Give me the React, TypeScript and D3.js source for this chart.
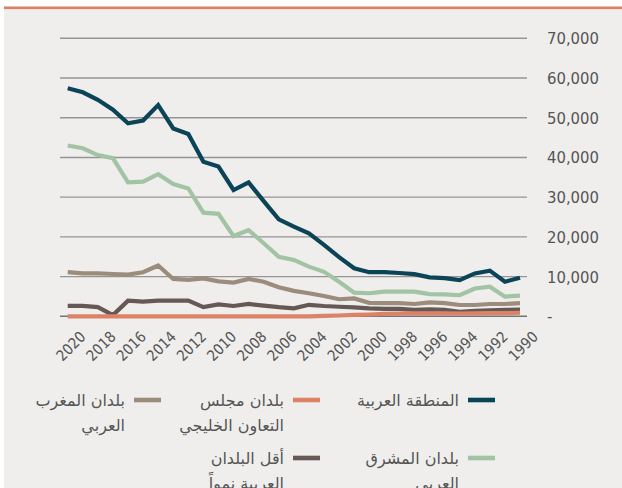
import React from "react";
import * as d3 from "d3";

const years: number[] = d3.range(2020, 1989, -1);

// values, year 2020 → 1990
const arabRegion = [57400, 56400, 54500, 52000, 48600, 49300, 53200, 47300, 45900, 38900, 37700, 31800, 33700, 29000, 24400, 22600, 20900, 18000, 14900, 12100, 11100, 11100, 10900, 10600, 9800, 9600, 9100, 10800, 11500, 8700, 9700];
const gccCountries = [0, 0, 0, 0, 0, 0, 0, 0, 0, 0, 0, 0, 0, 0, 0, 0, 0, 100, 200, 350, 450, 600, 700, 750, 700, 750, 700, 750, 800, 800, 900];
const maghreb = [11100, 10800, 10800, 10650, 10500, 11100, 12800, 9400, 9150, 9550, 8800, 8470, 9400, 8720, 7300, 6400, 5800, 5100, 4300, 4500, 3400, 3300, 3300, 3100, 3500, 3300, 2850, 2850, 3100, 3100, 3300];
const mashreq = [43000, 42300, 40600, 39800, 33750, 33900, 35800, 33300, 32200, 26100, 25800, 20200, 21700, 18400, 15000, 14200, 12500, 11200, 8700, 5950, 5800, 6200, 6200, 6200, 5600, 5500, 5300, 7000, 7450, 4950, 5200];
const ldc = [2600, 2600, 2300, 300, 3950, 3700, 3950, 3950, 3950, 2300, 3000, 2600, 3100, 2700, 2300, 2000, 2900, 2600, 2400, 2250, 2000, 1850, 1850, 1600, 1750, 1600, 1100, 1350, 1500, 1600, 1700];

const yTicks = [0, 10000, 20000, 30000, 40000, 50000, 60000, 70000];
const xTickYears = d3.range(2020, 1989, -2);

const seriesNames = ["المنطقة العربية", "بلدان مجلس التعاون الخليجي", "بلدان المغرب العربي", "بلدان المشرق العربي", "أقل البلدان العربية نمواً"];
const legendLines: string[][] = [
  ["المنطقة العربية"],
  ["بلدان مجلس", "التعاون الخليجي"],
  ["بلدان المغرب", "العربي"],
  ["بلدان المشرق", "العربي"],
  ["أقل البلدان", "العربية نمواً"],
];
const colors = ["#0c4457", "#dc8367", "#9c8c7c", "#a2c3a4", "#665955"];

const numFont = "'DejaVu Sans Condensed', 'DejaVu Sans', sans-serif";
const arFont = "'DejaVu Sans', sans-serif";

export default function App() {
  const W = 622, H = 488;
  const x = d3.scaleLinear().domain([2020, 1990]).range([67.7, 520]);
  const y = d3.scaleLinear().domain([0, 70000]).range([316.3, 38.3]);
  const data = [arabRegion, gccCountries, maghreb, mashreq, ldc];
  const line = d3
    .line<number>()
    .x((_, i) => x(years[i]))
    .y((d) => y(d));
  const drawOrder = [2, 3, 4, 1, 0];
  const fmt = d3.format(",");

  // legend layout: [swatch right edge, row y]
  const legendPos: [number, number][] = [
    [495, 400],
    [320, 400],
    [161, 400],
    [495, 458],
    [320, 458],
  ];

  return (
    <svg
      width={W}
      height={H}
      style={{ position: "absolute", left: 0, top: 0, background: "#ffffff" }}
    >
      <rect x={4} y={7} width={W - 4} height={H - 7} fill="#efeeec" />
      <rect x={4} y={6.5} width={W - 4} height={2.6} fill="#dc7f63" />

      {yTicks.map((t) => (
        <line
          key={t}
          x1={60}
          x2={527}
          y1={y(t)}
          y2={y(t)}
          stroke={t === 0 ? "#6f7579" : "#959595"}
          strokeWidth={1.4}
        />
      ))}
      {yTicks.map((t) => (
        <text
          key={"l" + t}
          x={547}
          y={y(t)}
          dy="0.36em"
          fontFamily={numFont}
          fontSize={16.5}
          fill="#555555"
        >
          {t === 0 ? "-" : fmt(t)}
        </text>
      ))}

      {drawOrder.map((k) => (
        <path
          key={k}
          d={line(data[k]) || ""}
          fill="none"
          stroke={colors[k]}
          strokeWidth={4.2}
          strokeLinejoin="miter"
        />
      ))}

      {xTickYears.map((yr) => (
        <text
          key={yr}
          transform={`translate(${x(yr) + 3},${346}) rotate(-45)`}
          textAnchor="middle"
          dy="0.36em"
          fontFamily={numFont}
          fontSize={15}
          fill="#555555"
        >
          {yr}
        </text>
      ))}

      {seriesNames.map((name, k) => {
        const [sx, sy] = legendPos[k];
        return (
          <g key={name}>
            <rect x={sx - 27} y={sy - 2.3} width={27} height={4.6} fill={colors[k]} />
            {legendLines[k].map((ln, j) => (
              <text
                key={j}
                x={sx - 36}
                y={sy + j * 25}
                dy="0.35em"
                textAnchor="end"
                fontFamily={arFont}
                fontSize={16}
                fill="#555555"
              >
                {ln}
              </text>
            ))}
          </g>
        );
      })}
    </svg>
  );
}
